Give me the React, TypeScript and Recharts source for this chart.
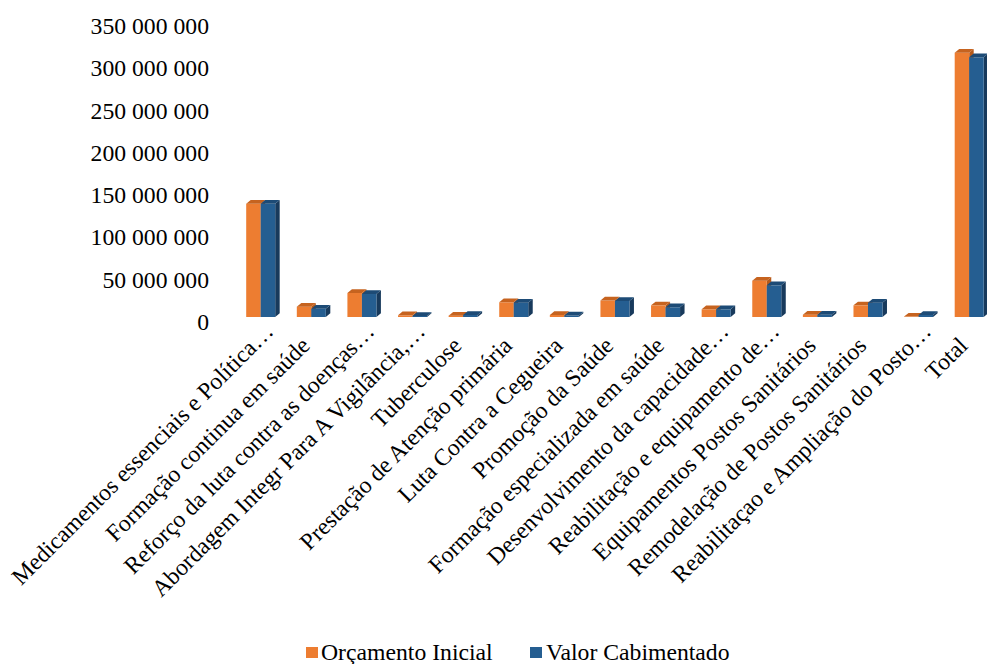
import React from 'react'
import { BarChart, Bar, XAxis, YAxis, Legend } from 'recharts'

const categories = [
  'Medicamentos essenciais e Política…',
  'Formação continua em saúde',
  'Reforço da luta contra as doenças…',
  'Abordagem Integr Para A Vigilância,…',
  'Tuberculose',
  'Prestação de Atenção primária',
  'Luta Contra a Cegueira',
  'Promoção da Saúde',
  'Formação especializada em saúde',
  'Desenvolvimento da capacidade…',
  'Reabilitação e equipamento de…',
  'Equipamentos Postos Sanitários',
  'Remodelação de Postos Sanitários',
  'Reabilitaçao e Ampliação do Posto…',
  'Total',
]

const orcamentoInicial = [
  134000000, 12200000, 28400000, 2000000, 1600000, 17400000, 2400000, 19500000,
  13800000, 9100000, 43000000, 2700000, 13800000, 500000, 312700000,
]

const valorCabimentado = [
  134000000, 9800000, 27200000, 1200000, 2400000, 17000000, 1800000, 19000000,
  11500000, 9100000, 37500000, 2700000, 17000000, 2400000, 307300000,
]

const yTicks = [0, 50000000, 100000000, 150000000, 200000000, 250000000, 300000000, 350000000]

const data = categories.map((name, i) => ({
  name,
  orcamento: orcamentoInicial[i],
  cabimentado: valorCabimentado[i],
}))

const FONT = '"Liberation Serif", "Times New Roman", serif'
const FS = 23.7

const fmt = (v: number) => String(v).replace(/\B(?=(\d{3})+(?!\d))/g, ' ')

// fake 3d bar: front face, top cap and right side
const make3D = (front: string, top: string, side: string) => (props: any) => {
  const { x, y, width, height } = props
  if (width == null || height == null || height < 0) return null
  const dx = 4.5
  const dy = 3.7
  return (
    <g>
      <polygon
        points={`${x + width},${y} ${x + width + dx},${y - dy} ${x + width + dx},${y + height - dy} ${x + width},${y + height}`}
        fill={side}
      />
      <rect x={x} y={y} width={width} height={height} fill={front} />
      <polygon
        points={`${x},${y} ${x + dx},${y - dy} ${x + width + dx},${y - dy} ${x + width},${y}`}
        fill={top}
      />
    </g>
  )
}

const OrangeBar = make3D('#ED7D31', '#C6631F', '#B55A1B')
const BlueBar = make3D('#255E91', '#1D4B76', '#183A5C')

const YTick = ({ y, payload }: any) => (
  <text x={209} y={y} dy={13} textAnchor="end" fontFamily={FONT} fontSize={FS} fill="#000">
    {fmt(payload.value)}
  </text>
)

const XTick = ({ x, y, payload }: any) => {
  const label: string = payload.value
  const cut = label.endsWith('…')
  return (
    <g transform={`translate(${x},${y + 30}) rotate(-45)`}>
      <text x={0} y={0} dx={cut ? 20 : 0} textAnchor="end" fontFamily={FONT} fontSize={FS} fill="#000">
        {label}
      </text>
    </g>
  )
}

const LegendBox = () => (
  <div style={{ position: 'relative', height: 26, fontFamily: FONT, fontSize: FS, color: '#000' }}>
    <div style={{ position: 'absolute', left: 306, top: 9, width: 12, height: 11, background: '#ED7D31' }} />
    <div style={{ position: 'absolute', left: 321, top: 0, lineHeight: '28px', whiteSpace: 'nowrap' }}>Orçamento Inicial</div>
    <div style={{ position: 'absolute', left: 530, top: 9, width: 12, height: 11, background: '#255E91' }} />
    <div style={{ position: 'absolute', left: 546, top: 0, lineHeight: '28px', whiteSpace: 'nowrap' }}>Valor Cabimentado</div>
  </div>
)

export default function App() {
  return (
    <div style={{ position: 'absolute', left: 0, top: 0, width: 987, height: 664, overflow: 'hidden', background: '#fff' }}>
      <BarChart
        width={1000}
        height={664}
        data={data}
        margin={{ top: 21.2, right: 5.7, bottom: 0, left: 0 }}
        barGap={0}
      >
        <YAxis
          width={235.2}
          domain={[0, 350000000]}
          ticks={yTicks}
          axisLine={false}
          tickLine={false}
          tickSize={0}
          tickMargin={0}
          tick={<YTick />}
        />
        <XAxis
          dataKey="name"
          interval={0}
          height={321}
          axisLine={false}
          tickLine={false}
          tickSize={0}
          tickMargin={0}
          tick={<XTick />}
        />
        <Legend verticalAlign="bottom" height={26} content={<LegendBox />} />
        <Bar dataKey="orcamento" name="Orçamento Inicial" barSize={14.5} shape={OrangeBar} isAnimationActive={false} />
        <Bar dataKey="cabimentado" name="Valor Cabimentado" barSize={14.5} shape={BlueBar} isAnimationActive={false} />
      </BarChart>
    </div>
  )
}
